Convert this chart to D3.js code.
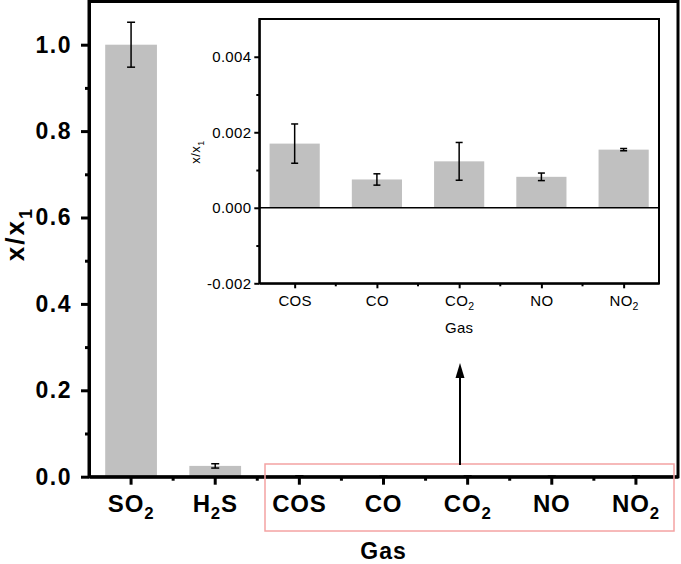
<!DOCTYPE html>
<html>
<head>
<meta charset="utf-8">
<script src="https://cdn.jsdelivr.net/npm/d3@7"></script>
<style>
    body { margin: 0; background: #fff; }
    svg { display: block; font-family: "Liberation Sans", Arial, sans-serif; }
</style>
</head>
<body>
<div id="chart"></div>
<script>
// Data (ratio x/x1 relative to SO2)
const gases = ["SO2", "H2S", "COS", "CO", "CO2", "NO", "NO2"]
const ratio = [1.0, 0.025, 0.0017, 0.00075, 0.00123, 0.00082, 0.00154]
const ratioErr = [0.052, 0.005, 0.00052, 0.00015, 0.0005, 0.0001, 0.00003]

const insetGases = ["COS", "CO", "CO2", "NO", "NO2"]
const mainTicks = [0, 0.2, 0.4, 0.6, 0.8, 1.0]
const mainMinor = [0.1, 0.3, 0.5, 0.7, 0.9]
const insetTicks = [-0.002, 0, 0.002, 0.004]
const insetMinor = [-0.001, 0.001, 0.003]

const barColor = "#c0c0c0"

// Set dimensions
let dims = {
    width: 681,
    height: 564,
    margin: { top: 1.5, right: 3, bottom: 87.3, left: 89 },
}
dims.boundedWidth = dims.width - dims.margin.left - dims.margin.right
dims.boundedHeight = dims.height - dims.margin.top - dims.margin.bottom

// inset box (absolute)
const inset = { x0: 259.3, x1: 659, y0: 19, y1: 283.3 }

// put digits as subscripts
function subLabel(sel, name, fs) {
    sel.text(null)
    const parts = name.match(/\d+|\D+/g)
    let low = false
    parts.forEach(p => {
        const isSub = /\d/.test(p)
        const t = sel.append("tspan").text(p)
        if (isSub) {
            t.attr("font-size", fs * 0.7).attr("dy", fs * 0.3)
            low = true
        } else if (low) {
            t.attr("dy", -fs * 0.3)
            low = false
        }
    })
}

const svg = d3.select("#chart")
    .append("svg")
    .attr("width", dims.width)
    .attr("height", dims.height)

const bounds = svg.append("g")
    .attr("transform", `translate(${dims.margin.left},${dims.margin.top})`)

// Create scales
const xScale = d3.scaleBand()
    .domain(gases)
    .range([0, dims.boundedWidth])

const yScale = d3.scaleLinear()
    .domain([0, 1.1])
    .range([dims.boundedHeight, 0])

const barW = xScale.bandwidth() * 0.615

// bars
bounds.selectAll("rect.bar")
    .data(gases)
    .join("rect")
    .attr("class", "bar")
    .attr("x", d => xScale(d) + xScale.bandwidth() / 2 - barW / 2)
    .attr("y", (d, i) => yScale(ratio[i]))
    .attr("width", barW)
    .attr("height", (d, i) => yScale(0) - yScale(ratio[i]))
    .attr("fill", barColor)

// error bars
const errG = bounds.append("g")
    .attr("stroke", "#000")
    .attr("stroke-width", 1.5)
gases.forEach((g, i) => {
    const cx = xScale(g) + xScale.bandwidth() / 2
    const yT = yScale(ratio[i] + ratioErr[i])
    const yB = yScale(ratio[i] - ratioErr[i])
    errG.append("line").attr("x1", cx).attr("x2", cx).attr("y1", yT).attr("y2", yB)
    errG.append("line").attr("x1", cx - 4).attr("x2", cx + 4).attr("y1", yT).attr("y2", yT)
    errG.append("line").attr("x1", cx - 4).attr("x2", cx + 4).attr("y1", yB).attr("y2", yB)
})

// axes
const yAxis = bounds.append("g")
    .call(d3.axisLeft(yScale).tickValues(mainTicks).tickFormat(d3.format(".1f"))
        .tickSize(8).tickSizeOuter(0).tickPadding(9))
yAxis.selectAll("text")
    .attr("font-size", 23).attr("font-weight", "bold").attr("letter-spacing", 1.5)
    .attr("font-family", "Liberation Sans, Arial, sans-serif").attr("fill", "#000")

bounds.append("g")
    .call(d3.axisLeft(yScale).tickValues(mainMinor).tickFormat("").tickSize(4).tickSizeOuter(0))
    .call(g => g.select(".domain").remove())

const xAxis = bounds.append("g")
    .attr("transform", `translate(0,${dims.boundedHeight})`)
    .call(d3.axisBottom(xScale).tickSize(8).tickSizeOuter(0).tickPadding(10))
xAxis.selectAll("text")
    .attr("font-size", 24).attr("font-weight", "bold").attr("letter-spacing", 0.8)
    .attr("font-family", "Liberation Sans, Arial, sans-serif").attr("fill", "#000")
    .each(function (d) { subLabel(d3.select(this), d, 24) })

// minor ticks at band edges
bounds.append("g")
    .attr("transform", `translate(0,${dims.boundedHeight})`)
    .selectAll("line")
    .data(gases.slice(1))
    .join("line")
    .attr("x1", d => xScale(d)).attr("x2", d => xScale(d))
    .attr("y1", 0).attr("y2", 4)
    .attr("stroke", "#000").attr("stroke-width", 3)

bounds.selectAll(".tick line").attr("stroke-width", 3)
bounds.selectAll(".domain").attr("stroke-width", 3)

// frame
bounds.append("rect")
    .attr("width", dims.boundedWidth)
    .attr("height", dims.boundedHeight)
    .attr("fill", "none")
    .attr("stroke", "#000")
    .attr("stroke-width", 3)

// axis titles
svg.append("text")
    .attr("transform", `translate(24,234) rotate(-90)`)
    .attr("text-anchor", "middle")
    .attr("font-size", 26).attr("font-weight", "bold").attr("letter-spacing", 2)
    .call(t => subLabel(t, "x/x1", 26))

svg.append("text")
    .attr("x", dims.margin.left + dims.boundedWidth / 2)
    .attr("y", 559)
    .attr("text-anchor", "middle")
    .attr("font-size", 23).attr("font-weight", "bold").attr("letter-spacing", 1)
    .text("Gas")

// red highlight box + arrow
svg.append("rect")
    .attr("x", 265).attr("y", 464)
    .attr("width", 409).attr("height", 67)
    .attr("fill", "none")
    .attr("stroke", "#f4a3a3")
    .attr("stroke-width", 1.5)

svg.append("line")
    .attr("x1", 460).attr("x2", 460)
    .attr("y1", 465).attr("y2", 375)
    .attr("stroke", "#000").attr("stroke-width", 2)
svg.append("path")
    .attr("d", "M460,363 L455.5,378 L464.5,378 Z")
    .attr("fill", "#000")

// ---------- inset ----------
const ins = svg.append("g")

const xInset = d3.scalePoint()
    .domain(insetGases)
    .range([inset.x0, inset.x1])
    .padding(0.43)

const yInset = d3.scaleLinear()
    .domain([-0.002, 0.005])
    .range([inset.y1, inset.y0])

const insBarW = xInset.step() * 0.61

ins.selectAll("rect.ibar")
    .data(insetGases)
    .join("rect")
    .attr("class", "ibar")
    .attr("x", d => xInset(d) - insBarW / 2)
    .attr("y", d => yInset(ratio[gases.indexOf(d)]))
    .attr("width", insBarW)
    .attr("height", d => yInset(0) - yInset(ratio[gases.indexOf(d)]))
    .attr("fill", barColor)

const insErr = ins.append("g")
    .attr("stroke", "#000")
    .attr("stroke-width", 1.5)
insetGases.forEach(g => {
    const i = gases.indexOf(g)
    const cx = xInset(g)
    const yT = yInset(ratio[i] + ratioErr[i])
    const yB = yInset(ratio[i] - ratioErr[i])
    insErr.append("line").attr("x1", cx).attr("x2", cx).attr("y1", yT).attr("y2", yB)
    insErr.append("line").attr("x1", cx - 3.5).attr("x2", cx + 3.5).attr("y1", yT).attr("y2", yT)
    insErr.append("line").attr("x1", cx - 3.5).attr("x2", cx + 3.5).attr("y1", yB).attr("y2", yB)
})

// zero line
ins.append("line")
    .attr("x1", inset.x0).attr("x2", inset.x1)
    .attr("y1", yInset(0)).attr("y2", yInset(0))
    .attr("stroke", "#000").attr("stroke-width", 1.5)

const iyAxis = ins.append("g")
    .attr("transform", `translate(${inset.x0},0)`)
    .call(d3.axisLeft(yInset).tickValues(insetTicks).tickFormat(d3.format(".3f"))
        .tickSize(5).tickSizeOuter(0).tickPadding(3))
iyAxis.selectAll("text")
    .attr("font-size", 15).attr("letter-spacing", 0.3)
    .attr("font-family", "Liberation Sans, Arial, sans-serif").attr("fill", "#000")
    .text(d => d3.format(".3f")(d).replace("−", "-"))

ins.append("g")
    .attr("transform", `translate(${inset.x0},0)`)
    .call(d3.axisLeft(yInset).tickValues(insetMinor).tickFormat("").tickSize(3).tickSizeOuter(0))
    .call(g => g.select(".domain").remove())

const ixAxis = ins.append("g")
    .attr("transform", `translate(0,${inset.y1})`)
    .call(d3.axisBottom(xInset).tickSize(5).tickSizeOuter(0).tickPadding(7))
ixAxis.selectAll("text")
    .attr("font-size", 15).attr("letter-spacing", 0.3)
    .attr("font-family", "Liberation Sans, Arial, sans-serif").attr("fill", "#000")
    .each(function (d) { subLabel(d3.select(this), d, 15) })

ins.append("g")
    .attr("transform", `translate(0,${inset.y1})`)
    .selectAll("line")
    .data(insetGases.slice(1))
    .join("line")
    .attr("x1", d => xInset(d) - xInset.step() / 2).attr("x2", d => xInset(d) - xInset.step() / 2)
    .attr("y1", 0).attr("y2", 3)
    .attr("stroke", "#000").attr("stroke-width", 2)

ins.selectAll(".tick line").attr("stroke-width", 2)
ins.selectAll(".domain").attr("stroke-width", 2)

ins.append("rect")
    .attr("x", inset.x0).attr("y", inset.y0)
    .attr("width", inset.x1 - inset.x0)
    .attr("height", inset.y1 - inset.y0)
    .attr("fill", "none")
    .attr("stroke", "#000")
    .attr("stroke-width", 2)

svg.append("text")
    .attr("transform", `translate(200,152) rotate(-90)`)
    .attr("text-anchor", "middle")
    .attr("font-size", 13).attr("letter-spacing", 0.5)
    .call(t => subLabel(t, "x/x1", 13))

svg.append("text")
    .attr("x", (inset.x0 + inset.x1) / 2)
    .attr("y", 333)
    .attr("text-anchor", "middle")
    .attr("font-size", 15).attr("letter-spacing", 0.3)
    .text("Gas")
</script>
</body>
</html>
